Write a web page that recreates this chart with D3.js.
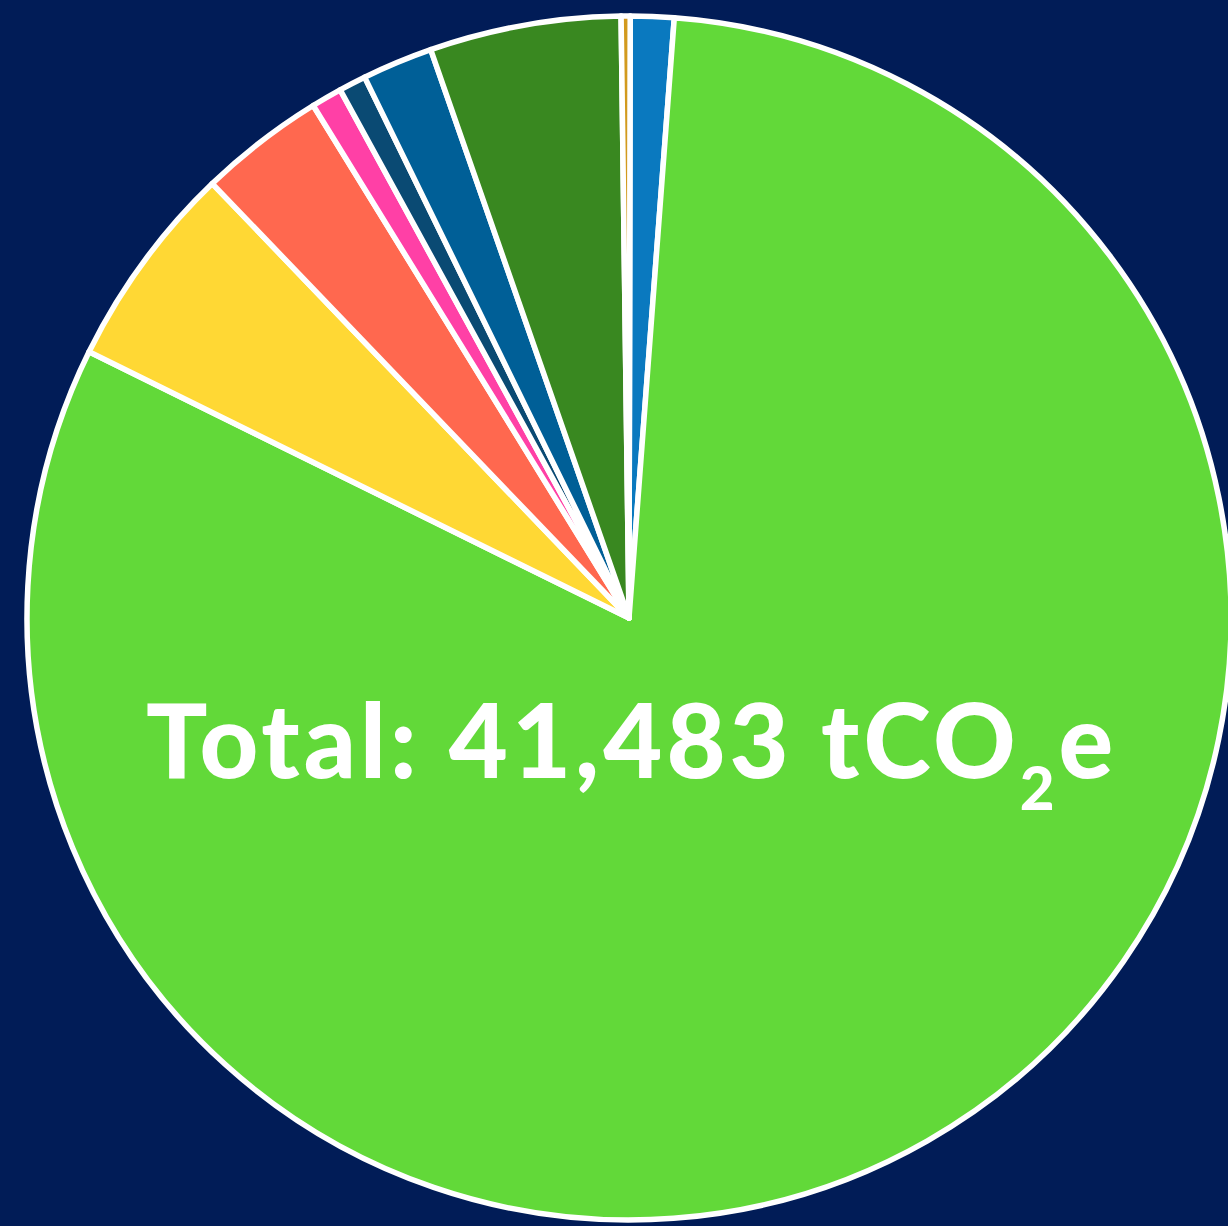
<!DOCTYPE html>
<html lang="en">
<head>
<meta charset="utf-8">
<title>Emissions breakdown</title>
<script src="https://cdn.jsdelivr.net/npm/d3@7"></script>
<style>
  html, body { margin: 0; padding: 0; background: #011c57; }
  svg { display: block; }
  .total { font-family: Lato, "Open Sans", sans-serif; font-weight: 900; fill: #fff; letter-spacing: 4px; }
</style>
</head>
<body>
<script>
// slice data, clockwise from 12 o'clock
var categories = ["Category A", "Category B", "Category C", "Category D", "Category E",
                  "Category F", "Category G", "Category H", "Category I"];
var values = [484, 33639, 2299, 1402, 342, 302, 786, 2129, 100];
var colors = ["#0a79bf", "#62d939", "#ffd834", "#ff684f", "#ff40a6",
              "#0a4a73", "#005f97", "#398820", "#d29a1e"];
var totalLabel = "41,483";

var w = 1228, h = 1226;
var cx = 629, cy = 618, radius = 602;

var svg = d3.select("body").append("svg")
    .attr("width", w)
    .attr("height", h);

var pie = d3.pie().sort(null).value(function(d) { return d; })
    .startAngle(0.002).endAngle(0.002 + 2 * Math.PI);
var arc = d3.arc().innerRadius(0).outerRadius(radius);

var g = svg.append("g").attr("transform", "translate(" + cx + "," + cy + ")");

g.selectAll("path")
  .data(pie(values))
  .enter()
  .append("path")
  .attr("d", arc)
  .attr("fill", function(d, i) { return colors[i]; })
  .attr("stroke", "#fff")
  .attr("stroke-width", 5.5)
  .attr("stroke-linejoin", "round");

// total label
var label = svg.append("text")
  .attr("class", "total")
  .attr("x", 0)
  .attr("y", 778)
  .style("font-size", "102px");
label.append("tspan").text("Total: " + totalLabel + " tCO");
label.append("tspan").text("2").style("font-size", "60px").attr("dy", 32);
label.append("tspan").text("e").attr("dy", -32);

// line it up with the left edge of the original text
var bb = label.node().getBBox();
label.attr("x", 146 - bb.x);
</script>
</body>
</html>
